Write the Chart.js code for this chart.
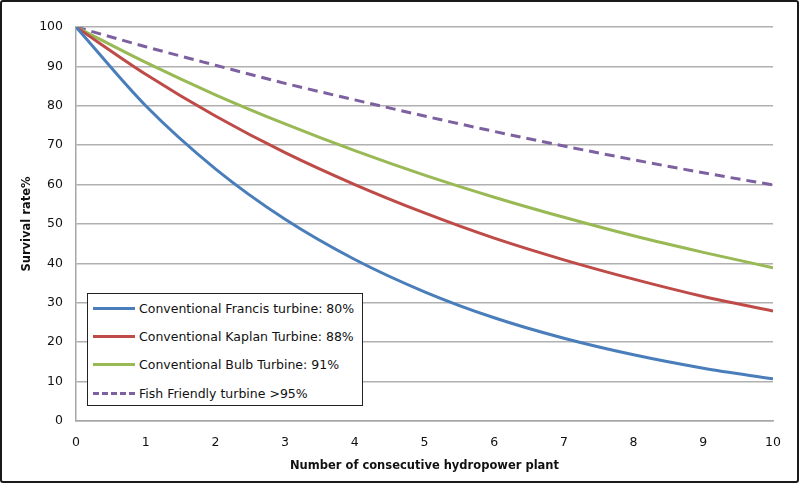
<!DOCTYPE html>
<html>
<head>
<meta charset="utf-8">
<script src="https://cdn.jsdelivr.net/npm/chart.js@4.4.1/dist/chart.umd.min.js"></script>
<style>
    html, body { margin: 0; padding: 0; background: #fff; }
    #wrap { position: relative; width: 799px; height: 483px; }
    #frame { position: absolute; left: 0; top: 0; width: 799px; height: 483px; box-sizing: border-box;
             border: 2px solid #1a1a1a; border-radius: 3px; pointer-events: none; }
    #legend { position: absolute; left: 87px; top: 293px; width: 276px; height: 113px; box-sizing: border-box;
              border: 1.5px solid #222; background: #fff; font-family: "DejaVu Sans", Verdana, sans-serif;
              font-size: 12.5px; color: #111; padding-top: 0px; white-space: nowrap; }
    .row { height: 28.3px; display: flex; align-items: center; }
    .sw { width: 42px; height: 0; margin-left: 5px; margin-right: 4px; border-top: 3px solid; }
</style>
</head>
<body>
<div id="wrap">
    <canvas id="canvas" width="799" height="483"></canvas>
    <div id="legend"></div>
    <div id="frame"></div>
</div>
<script>
var plants = [0, 1, 2, 3, 4, 5, 6, 7, 8, 9, 10];

/* survival rate */
var francis = [100, 80, 64, 51.2, 41, 32.8, 26.2, 21, 16.8, 13.4, 10.7];
var kaplan = [100, 88, 77.4, 68.1, 60, 52.8, 46.4, 40.9, 36, 31.6, 27.9];
var bulb = [100, 91, 82.8, 75.4, 68.6, 62.4, 56.8, 51.7, 47, 42.8, 38.9];
var fishFriendly = [100, 95, 90.3, 85.7, 81.5, 77.4, 73.5, 69.8, 66.3, 63, 59.9];

var seriesNames = ["Conventional Francis turbine: 80%", "Conventional Kaplan Turbine: 88%",
    "Conventional Bulb Turbine: 91%", "Fish Friendly turbine >95%"];
var seriesColors = ["#4a7ebb", "#be4b48", "#98b954", "#7d60a0"];

function toPoints(arr) {
    var pts = [];
    for (var i = 0; i < arr.length; i++) {
        pts.push({x: plants[i], y: arr[i]});
    }
    return pts;
}

var allData = [francis, kaplan, bulb, fishFriendly];
var datasets = [];
for (var i = 0; i < allData.length; i++) {
    datasets.push({
        label: seriesNames[i],
        data: toPoints(allData[i]),
        borderColor: seriesColors[i],
        backgroundColor: seriesColors[i],
        borderWidth: 3,
        borderDash: i == 3 ? [10, 6] : [],
        pointRadius: 0,
        cubicInterpolationMode: 'monotone',
        fill: false
    });
}

var ctx = document.getElementById("canvas").getContext("2d");

var canvas = new Chart(ctx, {
    type: 'line',
    data: { datasets: datasets },
    options: {
        responsive: false,
        animation: false,
        layout: { padding: { top: 27, right: 26, left: 0, bottom: 0 } },
        plugins: { legend: { display: false }, tooltip: { enabled: false } },
        scales: {
            x: {
                type: 'linear',
                min: 0,
                max: 10,
                ticks: { stepSize: 1, color: '#111', padding: 14, font: { family: 'DejaVu Sans', size: 12.5 } },
                grid: { display: false, drawTicks: false },
                border: { color: '#a6a6a6', width: 1.5 },
                title: { display: true, text: 'Number of consecutive hydropower plant', color: '#111',
                    padding: { top: 0, bottom: 10 }, font: { family: 'DejaVu Sans', size: 11.5, weight: 'bold' } },
                afterFit: function (scale) { scale.height = 62; }
            },
            y: {
                min: 0,
                max: 100,
                ticks: { stepSize: 10, color: '#111', padding: 13, font: { family: 'DejaVu Sans', size: 12.5 } },
                grid: { color: '#b0b0b0', lineWidth: 1.5, drawTicks: false },
                border: { color: '#a6a6a6', width: 1.5 },
                title: { display: true, text: 'Survival rate%', color: '#111',
                    padding: { top: 20, bottom: 0 }, font: { family: 'DejaVu Sans', size: 11.5, weight: 'bold' } },
                afterFit: function (scale) { scale.width = 76; }
            }
        }
    }
});

/* legend box inside the plot */
var legendDiv = document.getElementById("legend");
for (var i = 0; i < datasets.length; i++) {
    var row = document.createElement("div");
    row.className = "row";
    var sw = document.createElement("span");
    sw.className = "sw";
    sw.style.borderTopColor = datasets[i].borderColor;
    if (i == 3) sw.style.borderTopStyle = "dashed";
    var txt = document.createElement("span");
    txt.textContent = datasets[i].label;
    row.appendChild(sw);
    row.appendChild(txt);
    legendDiv.appendChild(row);
}
</script>
</body>
</html>
